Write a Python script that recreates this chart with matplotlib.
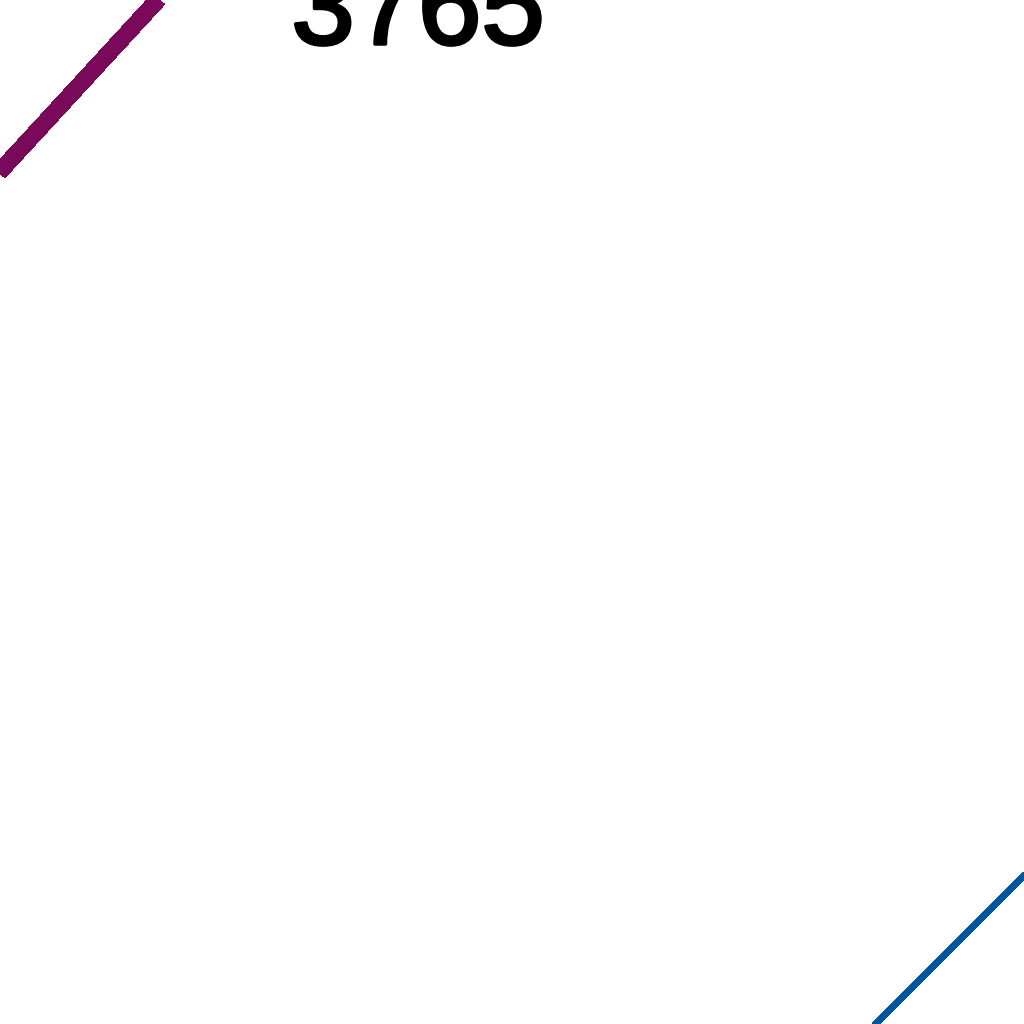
import matplotlib
matplotlib.use("Agg")
import matplotlib.pyplot as plt
import matplotlib.patheffects as pe

# Series data (in the chart's own value units; the view is a tight crop)
purple_x = [-20, 200]
purple_y = [831, 1070]
blue_x = [860, 1050]
blue_y = [-16, 175]
label_text = "3765"
label_x = 418
label_y = 980

purple_color = "#7a0a59"
blue_color = "#00559f"

fig = plt.figure(figsize=(10.24, 10.24), dpi=100)
ax = fig.add_axes([0, 0, 1, 1])
ax.plot(purple_x, purple_y, color=purple_color, linewidth=11.5,
        solid_capstyle="butt", antialiased=False)
ax.plot(blue_x, blue_y, color=blue_color, linewidth=4.0,
        solid_capstyle="butt", antialiased=False)
ax.text(label_x, label_y, label_text, ha="center", va="baseline",
        fontsize=82, family="Liberation Sans", fontweight="normal",
        color="black",
        path_effects=[pe.withStroke(linewidth=2.5, foreground="black")])
ax.set_xlim(0, 1024)
ax.set_ylim(0, 1024)
ax.axis("off")
fig.savefig("out.png", dpi=100, facecolor="white")
